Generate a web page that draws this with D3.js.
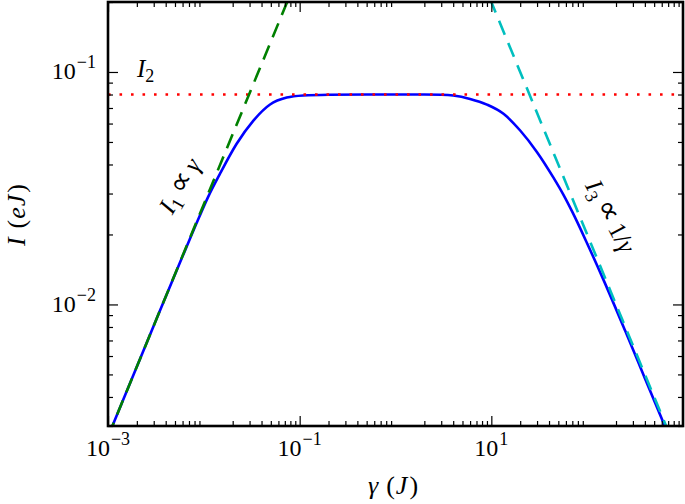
<!DOCTYPE html>
<meta charset="utf-8">
<html>
<script src="https://d3js.org/d3.v7.min.js"></script>
<style>
    body { margin: 0; background: #fff; }
    text { font-family: "Liberation Serif", "DejaVu Serif", serif; fill: #000; }
    .sym { font-family: "DejaVu Sans", sans-serif; font-size: 30px; }
</style>
<body>
<div id="chart"></div>
<script>
    // full curve: gamma (J) -> I (eJ)
    var gammaVals = [0.0011, 0.003, 0.006, 0.009, 0.011, 0.0148, 0.022, 0.0329, 0.0491, 0.0733, 0.109, 0.2, 0.5,
                     1, 2, 3, 4, 6, 9, 13.4, 20, 30, 44.5, 56.6, 70, 100, 150, 250, 400, 700];
    var currentVals = [0.00297, 0.0081, 0.0161, 0.0239, 0.0288, 0.0366, 0.0491, 0.0618, 0.0725, 0.0776, 0.0792, 0.0798, 0.0800,
                       0.0800, 0.0800, 0.0798, 0.0792, 0.0766, 0.0724, 0.0661, 0.0560, 0.0452, 0.0351, 0.0296, 0.0250,
                       0.0183, 0.0126, 0.00768, 0.00482, 0.00277];

    // asymptotes
    var i1Gamma = [0.001, 0.1], i1Vals = [0.0027, 0.27];          // I1 ~ gamma
    var i2Gamma = [0.001, 1000], i2Vals = [0.08, 0.08];           // I2 const
    var i3Gamma = [5, 1000], i3Vals = [0.4, 0.002];               // I3 ~ 1/gamma

    var xLabelTicks = [1e-3, 1e-1, 1e1];
    var xLabelText = ["\u22123", "\u22121", "1"];
    var yLabelTicks = [1e-2, 1e-1];
    var yLabelText = ["\u22122", "\u22121"];

    var W = 685, H = 504;
    var pL = 108, pR = 683, pT = 2, pB = 426;

    var svg = d3.select("#chart").append("svg")
        .attr("width", W).attr("height", H);

    var x = d3.scaleLog().domain([1e-3, 1e3]).range([pL, pR]);
    var y = d3.scaleLog().domain([0.003, 0.2]).range([pB, pT]);

    svg.append("clipPath").attr("id", "clip")
        .append("rect").attr("x", pL).attr("y", pT)
        .attr("width", pR - pL).attr("height", pB - pT);

    var line = d3.line()
        .x(function (d) { return x(d[0]); })
        .y(function (d) { return y(d[1]); });

    var plot = svg.append("g").attr("clip-path", "url(#clip)");

    plot.append("path")
        .datum(d3.zip(gammaVals, currentVals))
        .attr("fill", "none").attr("stroke", "#0000ff").attr("stroke-width", 2.6)
        .attr("d", line.curve(d3.curveMonotoneX));

    line.curve(d3.curveLinear);

    plot.append("path")
        .datum(d3.zip(i2Gamma, i2Vals))
        .attr("fill", "none").attr("stroke", "#ff0000").attr("stroke-width", 2.6)
        .attr("stroke-dasharray", "2.6,8.9")
        .attr("d", line);

    plot.append("path")
        .datum(d3.zip(i1Gamma, i1Vals))
        .attr("fill", "none").attr("stroke", "#008000").attr("stroke-width", 2.6)
        .attr("stroke-dasharray", "15,9")
        .attr("d", line);

    plot.append("path")
        .datum(d3.zip(i3Gamma, i3Vals))
        .attr("fill", "none").attr("stroke", "#00bfbf").attr("stroke-width", 2.6)
        .attr("stroke-dasharray", "15,9")
        .attr("d", line);

    // ticks: labelled decades are major, mantissa 2..9 are minor
    function notDecade(t) {
        var m = Math.round(t / Math.pow(10, Math.floor(Math.log10(t) + 1e-9)));
        return m !== 1;
    }
    var xMinor = x.ticks().filter(notDecade);
    var yMinor = y.ticks().filter(notDecade);

    function tickAxis(axisFn, scale, vals, size, tr) {
        var g = svg.append("g").attr("transform", tr)
            .call(axisFn(scale).tickValues(vals).tickSize(size).tickFormat(""));
        g.select(".domain").remove();
        g.selectAll(".tick text").remove();
        g.selectAll(".tick line").attr("stroke", "#000").attr("stroke-width", 1.2);
    }
    tickAxis(d3.axisBottom, x, xLabelTicks, -10, "translate(0," + pB + ")");
    tickAxis(d3.axisBottom, x, xMinor, -5, "translate(0," + pB + ")");
    tickAxis(d3.axisTop, x, xLabelTicks, -10, "translate(0," + pT + ")");
    tickAxis(d3.axisTop, x, xMinor, -5, "translate(0," + pT + ")");
    tickAxis(d3.axisLeft, y, yLabelTicks, -10, "translate(" + pL + ",0)");
    tickAxis(d3.axisLeft, y, yMinor, -5, "translate(" + pL + ",0)");
    tickAxis(d3.axisRight, y, yLabelTicks, -10, "translate(" + pR + ",0)");
    tickAxis(d3.axisRight, y, yMinor, -5, "translate(" + pR + ",0)");

    // frame
    svg.append("rect")
        .attr("x", pL).attr("y", pT)
        .attr("width", pR - pL).attr("height", pB - pT)
        .attr("fill", "none").attr("stroke", "#000").attr("stroke-width", 2.6);

    // tick labels
    function power(sel, exp) {
        sel.append("tspan").text("10");
        sel.append("tspan").attr("dx", 1).attr("dy", -11).style("font-size", "18px").text(exp);
    }
    xLabelTicks.forEach(function (t, i) {
        var tx = svg.append("text")
            .attr("x", x(t)).attr("y", 456)
            .attr("text-anchor", "middle").style("font-size", "24px");
        power(tx, xLabelText[i]);
    });
    yLabelTicks.forEach(function (t, i) {
        var ty = svg.append("text")
            .attr("x", 96).attr("y", y(t) + 7.5)
            .attr("text-anchor", "end").style("font-size", "24px");
        power(ty, yLabelText[i]);
    });

    // axis titles
    var xt = svg.append("text")
        .attr("x", 393).attr("y", 494)
        .attr("text-anchor", "middle").style("font-size", "26px");
    xt.append("tspan").style("font-style", "italic").text("\u03b3");
    xt.append("tspan").attr("dx", 8).text("(");
    xt.append("tspan").attr("dx", 1).style("font-style", "italic").text("J");
    xt.append("tspan").attr("dx", 2).text(")");

    var yt = svg.append("text")
        .attr("transform", "translate(25,215) rotate(-90)")
        .attr("text-anchor", "middle").style("font-size", "26px");
    yt.append("tspan").style("font-style", "italic").text("I");
    yt.append("tspan").attr("dx", 9).text("(");
    yt.append("tspan").attr("dx", 1).style("font-style", "italic").text("e");
    yt.append("tspan").attr("dx", 1).style("font-style", "italic").text("J");
    yt.append("tspan").attr("dx", 2).text(")");

    // curve annotations
    var t2 = svg.append("text").attr("x", 137).attr("y", 77).style("font-size", "25px");
    t2.append("tspan").style("font-style", "italic").text("I");
    t2.append("tspan").attr("dy", 5).style("font-size", "18px").text("2");

    function propLabel(sel, sub, rest) {
        sel.append("tspan").style("font-style", "italic").text("I");
        sel.append("tspan").attr("dy", 5).style("font-size", "18px").text(sub);
        sel.append("tspan").attr("dy", -5).attr("dx", 5).attr("class", "sym").text("\u221d");
        if (rest) sel.append("tspan").attr("dx", 5).text(rest);
        sel.append("tspan").attr("dx", rest ? 0 : 5).style("font-style", "italic").text("\u03b3");
    }

    var t1 = svg.append("text")
        .attr("transform", "translate(187,190) rotate(-60)")
        .attr("text-anchor", "middle").style("font-size", "25px");
    propLabel(t1, "1", null);

    var t3 = svg.append("text")
        .attr("transform", "translate(603,220) rotate(62)")
        .attr("text-anchor", "middle").style("font-size", "25px");
    propLabel(t3, "3", "1/");
</script>
</body>
</html>
